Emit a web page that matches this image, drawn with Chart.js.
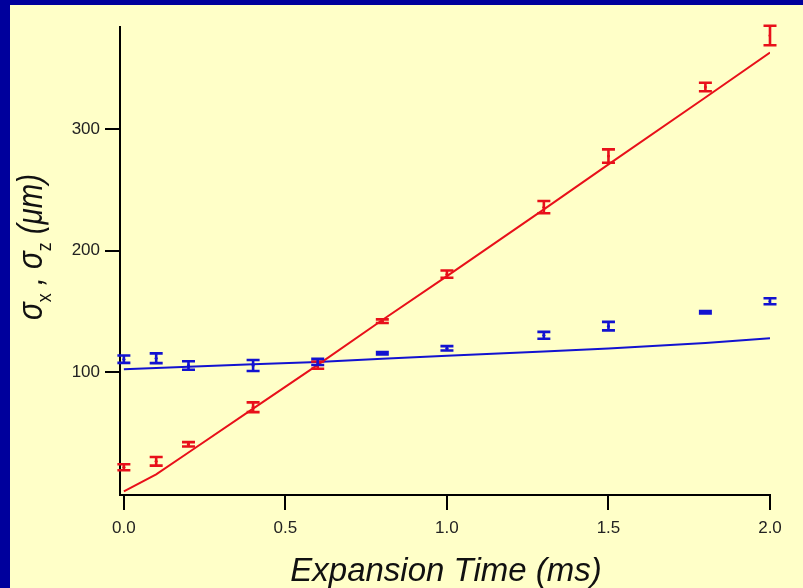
<!DOCTYPE html>
<html lang="en">
<head>
  <meta charset="UTF-8">
  <title>Expansion Time</title>
  <style>
    body {
      margin: 0;
      padding: 0;
      background-color: #00009c;
    }

    .panel {
      position: absolute;
      left: 10px;
      top: 5px;
      width: 793px;
      height: 583px;
      background: #ffffc8;
    }
  </style>
</head>
<body>
  <div class="panel">
    <canvas id="graph" width="793" height="583"></canvas>
  </div>

  <script src="https://cdn.jsdelivr.net/npm/chart.js"></script>
  <script>
    // times (ms)
    const times = [0, 0.1, 0.2, 0.4, 0.6, 0.8, 1.0, 1.3, 1.5, 1.8, 2.0];

    // sigma_z (red) measured + error, and fit
    const sigmaZ = [21.8, 26.7, 40.7, 71.2, 105.8, 142, 180.7, 235.8, 277.8, 334.6, 377];
    const sigmaZErr = [2.5, 3.5, 1.8, 4, 3, 1.5, 3, 5, 5.5, 3.5, 8];
    const sigmaZFit = [2, 16, 34, 70, 106, 143, 179, 234, 271, 326, 363];

    // sigma_x (blue) measured + error, and fit
    const sigmaX = [110.7, 111.5, 105.5, 105.5, 108.5, 115.6, 119.7, 130.4, 137.9, 149.4, 158.4];
    const sigmaXErr = [3, 4, 3.5, 4.5, 2.5, 1, 1.8, 2.8, 3.5, 1, 2.5];
    const sigmaXFit = [102.5, 103.5, 104.5, 106.5, 108.5, 111, 113.5, 117, 119.5, 124, 128];

    const xTicks = [0, 0.5, 1.0, 1.5, 2.0];
    const yTicks = [100, 200, 300];

    const RED = '#e8101a';
    const BLUE = '#1212d0';

    const pts = (xs, ys) => xs.map((x, i) => ({ x: x, y: ys[i] }));

    // error bars drawn from the measured datasets through the scales
    const errorBars = {
      id: 'errorBars',
      afterDatasetsDraw(chart) {
        const c = chart.ctx;
        const xs = chart.scales.x, ys = chart.scales.y;
        chart.data.datasets.forEach(ds => {
          if (!ds.errors) return;
          c.save();
          c.strokeStyle = ds.borderColor;
          c.lineWidth = 2.6;
          ds.data.forEach((p, i) => {
            const px = xs.getPixelForValue(p.x);
            const top = ys.getPixelForValue(p.y + ds.errors[i]);
            const bot = ys.getPixelForValue(p.y - ds.errors[i]);
            c.beginPath();
            c.moveTo(px, top); c.lineTo(px, bot);
            c.moveTo(px - 6.5, top); c.lineTo(px + 6.5, top);
            c.moveTo(px - 6.5, bot); c.lineTo(px + 6.5, bot);
            c.stroke();
          });
          c.restore();
        });
      }
    };

    // axis titles (y title needs subscripts)
    const axisTitles = {
      id: 'axisTitles',
      afterDraw(chart) {
        const c = chart.ctx;
        c.save();
        c.fillStyle = '#111';
        c.textBaseline = 'alphabetic';
        c.font = 'italic 33px "Liberation Sans", Arial, sans-serif';
        c.textAlign = 'center';
        c.fillText('Expansion Time (ms)', 436, 576);

        // rotated y title
        c.translate(20, 242);
        c.rotate(-Math.PI / 2);
        c.scale(0.84, 1);
        const big = 'italic 35px "Liberation Sans", Arial, sans-serif';
        const small = '21px "Liberation Sans", Arial, sans-serif';
        const parts = [
          ['σ', big, 0], ['x', small, 9], [' , ', big, 0],
          ['σ', big, 0], ['z', small, 9], [' (μm)', big, 0]
        ];
        let w = 0;
        parts.forEach(p => { c.font = p[1]; w += c.measureText(p[0]).width; });
        let x = -w / 2;
        c.textAlign = 'left';
        parts.forEach(p => {
          c.font = p[1];
          c.fillText(p[0], x, 12 + p[2]);
          x += c.measureText(p[0]).width;
        });
        c.restore();
      }
    };

    const tickFont = { family: '"Liberation Sans", Arial, sans-serif', size: 17 };

    const ctx = document.getElementById('graph').getContext('2d');
    const chart = new Chart(ctx, {
      type: 'scatter',
      data: {
        datasets: [
          {
            label: 'sigma z fit',
            data: pts(times, sigmaZFit),
            showLine: true,
            borderColor: RED,
            borderWidth: 2,
            pointRadius: 0,
            fill: false
          },
          {
            label: 'sigma x fit',
            data: pts(times, sigmaXFit),
            showLine: true,
            borderColor: BLUE,
            borderWidth: 2,
            pointRadius: 0,
            fill: false
          },
          {
            label: 'sigma z',
            data: pts(times, sigmaZ),
            errors: sigmaZErr,
            borderColor: RED,
            backgroundColor: RED,
            pointRadius: 1.5,
            pointBorderWidth: 0
          },
          {
            label: 'sigma x',
            data: pts(times, sigmaX),
            errors: sigmaXErr,
            borderColor: BLUE,
            backgroundColor: BLUE,
            pointRadius: 1.5,
            pointBorderWidth: 0
          }
        ]
      },
      options: {
        responsive: false,
        animation: false,
        layout: { padding: { top: 22, right: 33, left: 0, bottom: 0 } },
        plugins: {
          legend: { display: false },
          tooltip: { enabled: false }
        },
        scales: {
          x: {
            type: 'linear',
            min: -0.012,
            max: 2.0,
            afterBuildTicks: s => { s.ticks = xTicks.map(v => ({ value: v })); },
            afterFit: s => { s.height = 93; },
            ticks: {
              color: '#222',
              font: tickFont,
              padding: 8,
              maxRotation: 0,
              callback: v => v.toFixed(1)
            },
            grid: { drawOnChartArea: false, drawTicks: true, tickLength: 15, color: '#000', lineWidth: 2 },
            border: { display: true, color: '#000', width: 2 }
          },
          y: {
            min: -1,
            max: 384,
            afterBuildTicks: s => { s.ticks = yTicks.map(v => ({ value: v })); },
            afterFit: s => { s.width = 110; },
            ticks: {
              color: '#222',
              font: tickFont,
              padding: 5,
              callback: v => String(v)
            },
            grid: { drawOnChartArea: false, drawTicks: true, tickLength: 15, color: '#000', lineWidth: 2 },
            border: { display: true, color: '#000', width: 2 }
          }
        }
      },
      plugins: [errorBars, axisTitles]
    });
  </script>
</body>
</html>
